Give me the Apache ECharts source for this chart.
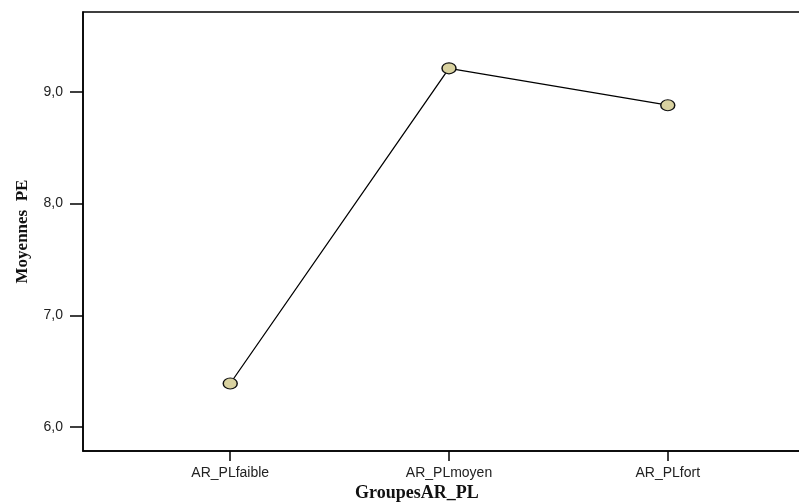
<!DOCTYPE html>
<html>
<head>
<meta charset="utf-8">
<script src="https://cdn.jsdelivr.net/npm/echarts@6/dist/echarts.min.js"></script>
<style>html,body{margin:0;padding:0;background:#fff;}#c{width:799px;height:503px;}</style>
</head>
<body>
<div id="c"></div>
<script>
var categories = ['AR_PLfaible', 'AR_PLmoyen', 'AR_PLfort'];
var means = [6.39, 9.21, 8.88];
var yTicks = [6, 7, 8, 9];
var xPositions = [1, 2, 3];

var chart = echarts.init(document.getElementById('c'), null, {renderer: 'canvas'});
var seriesData = categories.map(function (c, i) { return [xPositions[i], means[i]]; });

chart.setOption({
  backgroundColor: '#ffffff',
  animation: false,
  grid: {left: 83, top: 12, width: 732, height: 439, outerBoundsMode: 'none', containLabel: false,
    show: true, borderColor: '#000', borderWidth: 1.5, backgroundColor: 'transparent'},
  xAxis: {
    type: 'value', min: 0.327, max: 3.673,
    splitLine: {show: false},
    axisLine: {show: true, lineStyle: {color: '#000', width: 1.5}},
    axisTick: {show: true, length: 10, customValues: xPositions, lineStyle: {color: '#000', width: 1.5}},
    axisLabel: {customValues: xPositions, margin: 15, color: '#222', fontFamily: 'Liberation Sans, Arial, sans-serif', fontSize: 14,
      formatter: function (v) { var i = xPositions.indexOf(Math.round(v)); return i >= 0 ? categories[i] : ''; }}
  },
  yAxis: {
    type: 'value', min: 5.786, max: 9.714,
    splitLine: {show: false},
    axisLine: {show: true, lineStyle: {color: '#000', width: 1.5}},
    axisTick: {show: true, length: 13, customValues: yTicks, lineStyle: {color: '#000', width: 1.5}},
    axisLabel: {customValues: yTicks, margin: 20, color: '#222', fontFamily: 'Liberation Sans, Arial, sans-serif', fontSize: 14,
      formatter: function (v) { return v.toFixed(1).replace('.', ','); }},
    name: 'Moyennes  PE', nameLocation: 'middle', nameGap: 52, nameRotate: 90,
    nameTextStyle: {fontFamily: 'Liberation Serif, Times New Roman, serif', fontWeight: 'bold', fontSize: 17, color: '#111'}
  },
  graphic: [{
    type: 'text', left: 355, top: 484,
    style: {text: 'GroupesAR_PL', font: 'bold 18px "Liberation Serif", "Times New Roman", serif', fill: '#111'}
  }],
  series: [{
    type: 'line', data: seriesData,
    symbol: 'circle', symbolSize: [14, 11],
    lineStyle: {color: '#000', width: 1.3},
    itemStyle: {color: '#d9d2a0', borderColor: '#111', borderWidth: 1.3}
  }]
});
</script>
</body>
</html>
